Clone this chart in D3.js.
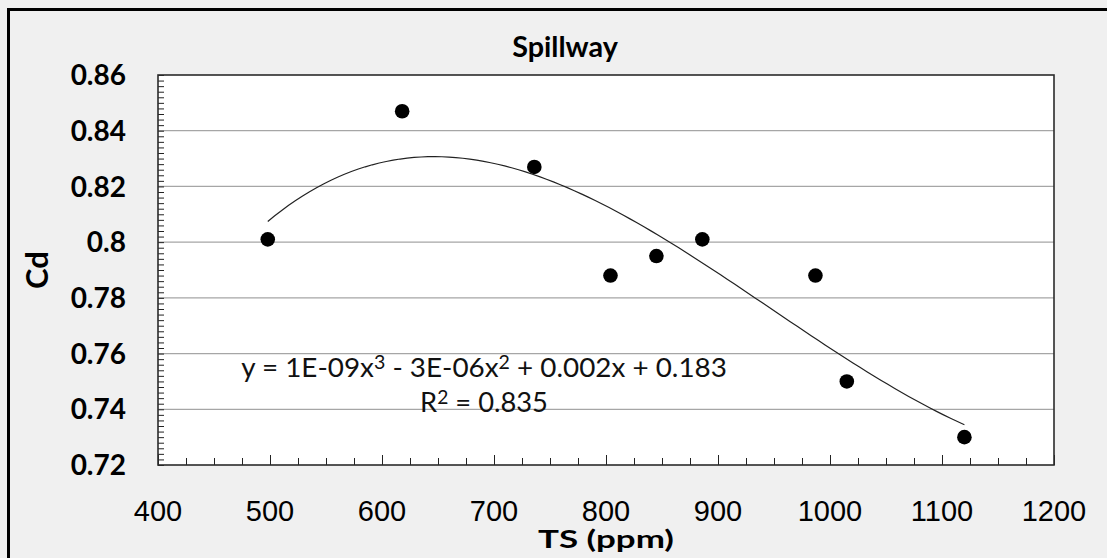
<!DOCTYPE html>
<html>
<head>
<meta charset="utf-8">
<script src="https://cdn.jsdelivr.net/npm/d3@7"></script>
<style>
  html, body { margin: 0; padding: 0; background: #f0f0f0; }
  svg { display: block; }
</style>
</head>
<body>
<svg id="svg"></svg>
<script>
// Spillway: discharge coefficient vs total solids
const tsValues = [498, 618, 736, 804, 845, 886, 987, 1015, 1120];
const cdValues = [0.801, 0.847, 0.827, 0.788, 0.795, 0.801, 0.788, 0.750, 0.730];
const xTicks = [400, 500, 600, 700, 800, 900, 1000, 1100, 1200];
const yTicks = [0.72, 0.74, 0.76, 0.78, 0.80, 0.82, 0.84, 0.86];
const chartTitle = "Spillway";
const xTitle = "TS (ppm)";
const yTitle = "Cd";
const equationText = ["y = 1E-09x", "3", " - 3E-06x", "2", " + 0.002x + 0.183"];
const r2Text = ["R", "2", " = 0.835"];

// least squares cubic, like the excel trendline
function cubicFit(xs, ys) {
    const c = 800, s = 300;
    const n = 4;
    const A = d3.range(n).map(() => new Array(n + 1).fill(0));
    xs.forEach((x, k) => {
        const t = (x - c) / s;
        const p = d3.range(2 * n).map(i => Math.pow(t, i));
        for (let i = 0; i < n; i++) {
            for (let j = 0; j < n; j++) A[i][j] += p[i + j];
            A[i][n] += p[i] * ys[k];
        }
    });
    for (let i = 0; i < n; i++) {
        let m = i;
        for (let r = i + 1; r < n; r++) if (Math.abs(A[r][i]) > Math.abs(A[m][i])) m = r;
        [A[i], A[m]] = [A[m], A[i]];
        for (let r = 0; r < n; r++) {
            if (r === i) continue;
            const f = A[r][i] / A[i][i];
            for (let q = i; q <= n; q++) A[r][q] -= f * A[i][q];
        }
    }
    const coef = A.map((row, i) => row[n] / row[i]);
    return x => {
        const t = (x - c) / s;
        return coef[0] + coef[1] * t + coef[2] * t * t + coef[3] * t * t * t;
    };
}

// squeeze a centred text horizontally so it takes the given width
function fitWidth(text, cx, w) {
    const b = text.node().getBBox();
    const k = w / b.width;
    text.attr('transform', `translate(${cx},0) scale(${k},1) translate(${-cx},0)`);
}

function chart() {
    const width = 1107, height = 558;
    const margin = { top: 75, right: 53, bottom: 93, left: 158 };

    const svg = d3.select('#svg')
        .attr('width', width)
        .attr('height', height)
        .attr('viewBox', [0, 0, width, height]);

    svg.append('rect')
        .attr('width', width).attr('height', height)
        .attr('fill', '#f0f0f0');

    // outer frame, runs off the right and bottom edges
    svg.append('rect')
        .attr('x', 8.5).attr('y', 9.5)
        .attr('width', width + 20).attr('height', height + 20)
        .attr('fill', 'none')
        .attr('stroke', '#000')
        .attr('stroke-width', 3);

    const x = d3.scaleLinear().domain([400, 1200]).range([margin.left, width - margin.right]);
    const y = d3.scaleLinear().domain([0.72, 0.86]).range([height - margin.bottom, margin.top]);

    svg.append('rect')
        .attr('x', x(400)).attr('y', y(0.86))
        .attr('width', x(1200) - x(400)).attr('height', y(0.72) - y(0.86))
        .attr('fill', '#fff');

    // gridlines
    svg.append('g')
        .selectAll('line')
        .data(yTicks.slice(1, -1))
        .join('line')
            .attr('x1', x(400)).attr('x2', x(1200))
            .attr('y1', d => y(d)).attr('y2', d => y(d))
            .attr('stroke', '#a6a6a6')
            .attr('stroke-width', 1.3);

    // inside ticks, major every 100 / 0.02 and minor between
    const xAxis = svg.append('g')
        .attr('transform', `translate(0,${y(0.72)})`)
        .call(d3.axisTop(x).tickValues(d3.range(400, 1201, 25)).tickSize(7).tickFormat(''));
    xAxis.selectAll('.tick line')
        .attr('y2', d => d % 100 === 0 ? -10 : -7)
        .attr('stroke', '#222');
    xAxis.select('.domain').remove();

    const yAxis = svg.append('g')
        .attr('transform', `translate(${x(400)},0)`)
        .call(d3.axisRight(y).tickValues(d3.range(0, 71).map(i => 0.72 + i * 0.002)).tickSize(6).tickFormat(''));
    yAxis.selectAll('.tick line').attr('stroke', '#222');
    yAxis.select('.domain').remove();

    // plot border
    svg.append('rect')
        .attr('x', x(400)).attr('y', y(0.86))
        .attr('width', x(1200) - x(400)).attr('height', y(0.72) - y(0.86))
        .attr('fill', 'none')
        .attr('stroke', '#2b2b2b')
        .attr('stroke-width', 1.6);

    // tick labels
    svg.append('g')
        .attr('font-family', 'Liberation Sans, Arial, sans-serif')
        .attr('font-size', 29)
        .attr('text-anchor', 'middle')
        .selectAll('text')
        .data(xTicks)
        .join('text')
            .attr('x', d => x(d))
            .attr('y', 521)
            .text(d => d);

    svg.append('g')
        .attr('font-family', 'Lato, sans-serif')
        .attr('font-weight', 'bold')
        .attr('font-size', 28)
        .attr('text-anchor', 'end')
        .selectAll('text')
        .data(yTicks)
        .join('text')
            .attr('x', 126)
            .attr('y', d => y(d))
            .attr('dy', '0.36em')
            .text(d => d3.format('.2f')(d).replace(/0$/, ''));

    // titles
    const title = svg.append('text')
        .attr('x', 565).attr('y', 57)
        .attr('font-family', 'Lato, sans-serif')
        .attr('font-weight', 'bold')
        .attr('font-size', 28)
        .attr('text-anchor', 'middle')
        .text(chartTitle);
    fitWidth(title, 565, 106);

    const xt = svg.append('text')
        .attr('x', x(800)).attr('y', 548)
        .attr('font-family', 'Lato, sans-serif')
        .attr('font-weight', 'bold')
        .attr('font-size', 25)
        .attr('text-anchor', 'middle')
        .text(xTitle);
    fitWidth(xt, x(800), 136);

    svg.append('text')
        .attr('transform', `translate(48,270) rotate(-90)`)
        .attr('font-family', 'Lato, sans-serif')
        .attr('font-weight', 'bold')
        .attr('font-size', 31)
        .attr('text-anchor', 'middle')
        .text(yTitle);

    // trendline
    const fit = cubicFit(tsValues, cdValues);
    const xs = d3.range(0, 101).map(i => d3.min(tsValues) + (d3.max(tsValues) - d3.min(tsValues)) * i / 100);
    svg.append('path')
        .datum(xs)
        .attr('fill', 'none')
        .attr('stroke', '#222')
        .attr('stroke-width', 1.2)
        .attr('d', d3.line().x(d => x(d)).y(d => y(fit(d))));

    // points
    svg.append('g')
        .selectAll('circle')
        .data(tsValues)
        .join('circle')
            .attr('cx', d => x(d))
            .attr('cy', (d, i) => y(cdValues[i]))
            .attr('r', 7.3)
            .attr('fill', '#000');

    // equation label
    const lbl = svg.append('g')
        .attr('font-family', 'Lato, sans-serif')
        .attr('font-size', 27)
        .attr('fill', '#111')
        .attr('text-anchor', 'middle');

    const eq = lbl.append('text').attr('x', 484).attr('y', 377);
    equationText.forEach((t, i) => {
        eq.append('tspan')
            .attr('baseline-shift', i % 2 ? '40%' : null)
            .attr('font-size', i % 2 ? 19 : null)
            .text(t);
    });
    fitWidth(eq, 484, 486);

    const r2 = lbl.append('text').attr('x', 484).attr('y', 412);
    r2Text.forEach((t, i) => {
        r2.append('tspan')
            .attr('baseline-shift', i % 2 ? '40%' : null)
            .attr('font-size', i % 2 ? 19 : null)
            .text(t);
    });
    fitWidth(r2, 484, 128);
}

chart();
</script>
</body>
</html>
